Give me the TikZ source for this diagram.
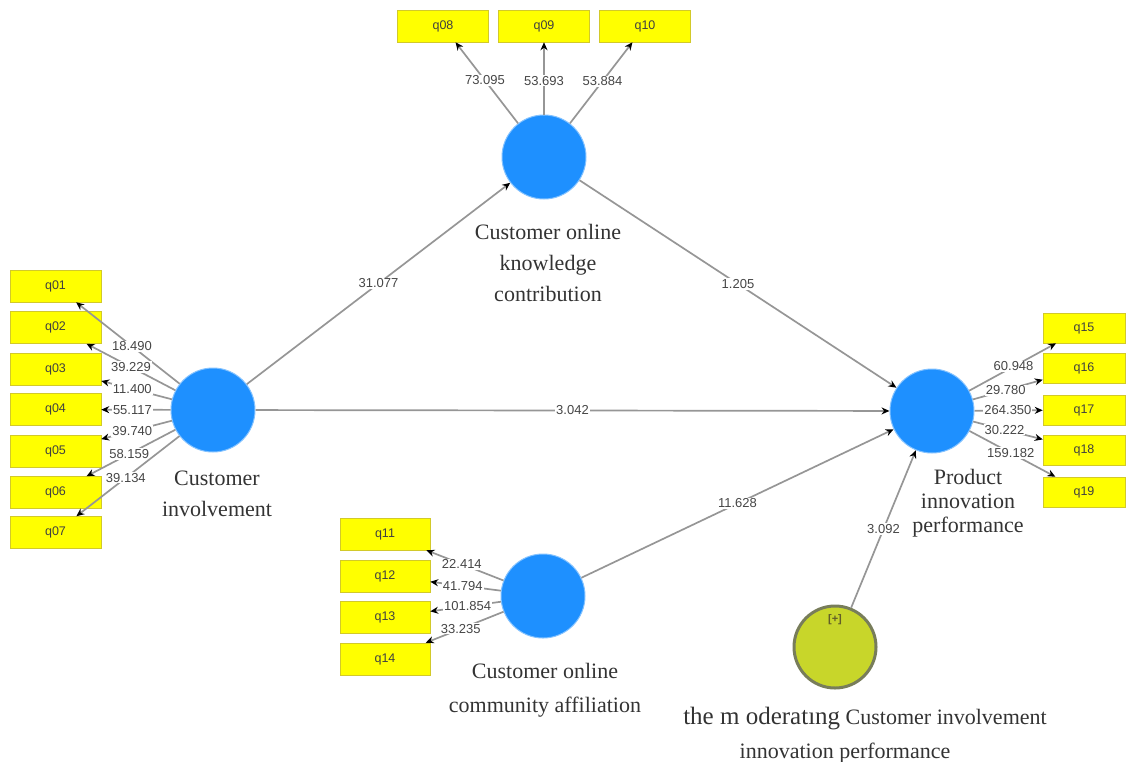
\documentclass[tikz,border=0pt]{standalone}
\usepackage{fontspec}
\setmainfont{Liberation Serif}
\setsansfont{Liberation Sans}
\usetikzlibrary{arrows.meta}
\definecolor{lvblue}{RGB}{30,144,255}
\definecolor{modfill}{RGB}{200,214,42}
\definecolor{modedge}{RGB}{120,125,90}
\definecolor{boxyellow}{RGB}{255,255,0}
\definecolor{edgegray}{RGB}{150,150,150}
\definecolor{lbl}{RGB}{70,70,70}
\begin{document}
\begin{tikzpicture}[x=1pt,y=-1pt,
 latent/.style={circle,fill=lvblue,draw=lvblue!55!white,line width=1pt,minimum size=84pt,inner sep=0pt},
 indic/.style={rectangle,fill=boxyellow,draw=yellow!80!black,line width=0.5pt,minimum width=91pt,minimum height=32pt,inner sep=0pt,font=\sffamily\fontsize{12.5}{14}\selectfont,text=black!75},
 conn/.style={draw=edgegray,line width=1.7pt,-{Stealth[length=8pt,width=7pt,black]}},
 pathval/.style={fill=white,inner sep=1pt,font=\sffamily\fontsize{13}{15}\selectfont,text=lbl},
 lvcap/.style={font=\fontsize{22}{31}\selectfont,align=center,text=black!80}]
\useasboundingbox (0,0) rectangle (1126,761);

% latent variables
\node[latent] (CI) at (213,410) {};
\node[latent] (COKC) at (544,157) {};
\node[latent] (PIP) at (932,411) {};
\node[latent] (COCA) at (543,596) {};
\node[circle,fill=modfill,draw=modedge,line width=3pt,minimum size=82pt,inner sep=0pt] (MOD) at (835,647) {};
\node[font=\sffamily\bfseries\fontsize{11}{12}\selectfont,text=olive!60!black] (MODplus) at (835,620) {[+]};

% indicators
\node[indic] (q01) at (55.5,286) {q01};
\node[indic] (q02) at (55.5,327.5) {q02};
\node[indic] (q03) at (55.5,369) {q03};
\node[indic] (q04) at (55.5,409.5) {q04};
\node[indic] (q05) at (55.5,451) {q05};
\node[indic] (q06) at (55.5,492.5) {q06};
\node[indic] (q07) at (55.5,532.5) {q07};

\node[indic] (q08) at (443,26) {q08};
\node[indic] (q09) at (544,26) {q09};
\node[indic] (q10) at (645,26) {q10};

\node[indic,minimum width=90pt] (q11) at (385,534) {q11};
\node[indic,minimum width=90pt] (q12) at (385,576) {q12};
\node[indic,minimum width=90pt] (q13) at (385,617.5) {q13};
\node[indic,minimum width=90pt] (q14) at (385,659) {q14};

\node[indic,minimum width=82pt,minimum height=30pt] (q15) at (1084,328) {q15};
\node[indic,minimum width=82pt,minimum height=30pt] (q16) at (1084,368) {q16};
\node[indic,minimum width=82pt,minimum height=30pt] (q17) at (1084,410) {q17};
\node[indic,minimum width=82pt,minimum height=30pt] (q18) at (1084,450) {q18};
\node[indic,minimum width=82pt,minimum height=30pt] (q19) at (1084,492) {q19};

% outer loadings
\draw[conn] (CI) -- node[pathval,pos=0.46] {18.490} (q01);
\draw[conn] (CI) -- node[pathval,pos=0.50] {39.229} (q02);
\draw[conn] (CI) -- node[pathval,pos=0.56] {11.400} (q03);
\draw[conn] (CI) -- node[pathval,pos=0.55] {55.117} (q04);
\draw[conn] (CI) -- node[pathval,pos=0.56] {39.740} (q05);
\draw[conn] (CI) -- node[pathval,pos=0.52] {58.159} (q06);
\draw[conn] (CI) -- node[pathval,pos=0.52] {39.134} (q07);

\draw[conn] (COKC) -- node[pathval,pos=0.53] {73.095} (q08);
\draw[conn] (COKC) -- node[pathval,pos=0.47] {53.693} (q09);
\draw[conn] (COKC) -- node[pathval,pos=0.52] {53.884} (q10);

\draw[conn] (COCA) -- node[pathval,pos=0.54] {22.414} (q11);
\draw[conn] (COCA) -- node[pathval,pos=0.54] {41.794} (q12);
\draw[conn] (COCA) -- node[pathval,pos=0.47] {101.854} (q13);
\draw[conn] (COCA) -- node[pathval,pos=0.55] {33.235} (q14);

\draw[conn] (PIP) -- node[pathval,pos=0.51] {60.948} (q15);
\draw[conn] (PIP) -- node[pathval,pos=0.47] {29.780} (q16);
\draw[conn] (PIP) -- node[pathval,pos=0.49] {264.350} (q17);
\draw[conn] (PIP) -- node[pathval,pos=0.45] {30.222} (q18);
\draw[conn] (PIP) -- node[pathval,pos=0.48] {159.182} (q19);

% inner paths
\draw[conn] (CI) -- node[pathval] {31.077} (COKC);
\draw[conn] (COKC) -- node[pathval] {1.205} (PIP);
\draw[conn] (CI) -- node[pathval] {3.042} (PIP);
\draw[conn] (COCA) -- node[pathval] {11.628} (PIP);
\draw[conn] (MOD) -- node[pathval] {3.092} (PIP);

% captions
\node[lvcap] (capCOKC) at (548,263) {Customer online\\knowledge\\contribution};
\node[lvcap] (capCI) at (217,494) {Customer\\involvement};
\node[lvcap,font=\fontsize{22}{24}\selectfont] (capPIP) at (968,503) {Product\\innovation\\performance};
\node[lvcap,font=\fontsize{22}{34}\selectfont] (capCOCA) at (545,690) {Customer online\\community affiliation};
\node[lvcap,anchor=base] (capMOD1) at (865,724) {{\fontsize{25}{30}\selectfont the m oderatıng} Customer involvement};
\node[lvcap,anchor=base] (capMOD2) at (845,758) {innovation performance};
\end{tikzpicture}
\end{document}
